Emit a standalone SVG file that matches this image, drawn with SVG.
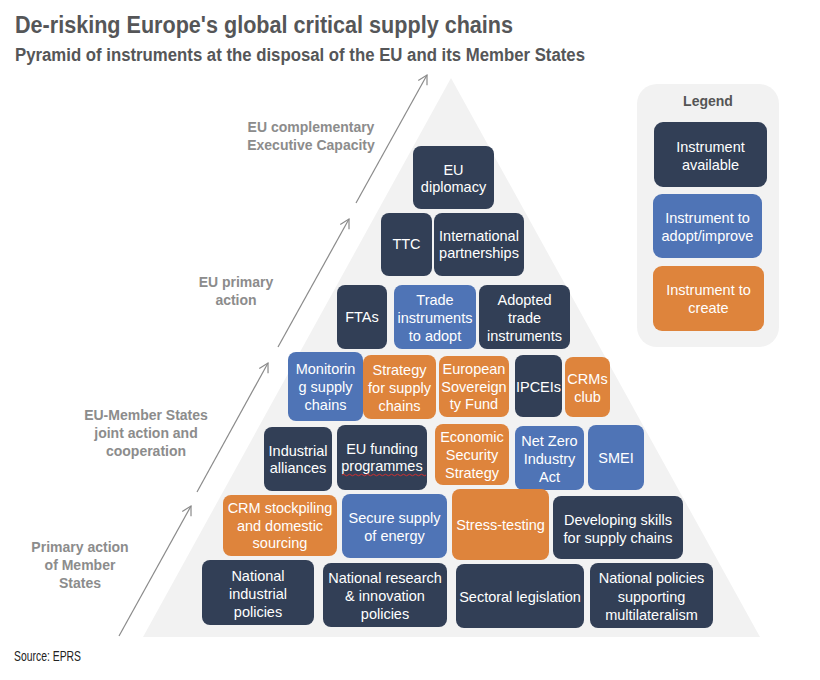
<svg xmlns="http://www.w3.org/2000/svg" width="820" height="680" viewBox="0 0 820 680">
<defs>
<marker id="arr" markerUnits="userSpaceOnUse" markerWidth="14" markerHeight="14" refX="0" refY="0" viewBox="-10 -7 12 14" orient="auto" overflow="visible">
<path d="M-9,-5 L0,0 L-9,5" fill="none" stroke="#8a8a8a" stroke-width="1.2"/>
</marker>
<style>
.t{font-family:"Liberation Sans",Arial,sans-serif;font-size:14.5px;fill:#ffffff;text-anchor:middle}
.lab{font-family:"Liberation Sans",Arial,sans-serif;font-size:14px;font-weight:bold;fill:#8c8c8c;text-anchor:middle}
.d{fill:#323f56}
.b{fill:#4f74b6}
.o{fill:#de843c}
.ar{stroke:#8a8a8a;stroke-width:1.2;fill:none}
</style>
</defs>
<rect width="820" height="680" fill="#ffffff"/>
<text x="15" y="33" font-family="Liberation Sans,Arial,sans-serif" font-size="23" font-weight="bold" fill="#555658" textLength="498" lengthAdjust="spacingAndGlyphs">De-risking Europe's global critical supply chains</text>
<text x="15" y="61" font-family="Liberation Sans,Arial,sans-serif" font-size="18" font-weight="bold" fill="#555658" textLength="570" lengthAdjust="spacingAndGlyphs">Pyramid of instruments at the disposal of the EU and its Member States</text>
<polygon points="451,78 143,637 760,637" fill="#f2f2f2"/>
<g id="connectors">
<line class="ar" x1="119" y1="636" x2="191" y2="506" marker-end="url(#arr)"/>
<line class="ar" x1="197" y1="492" x2="268" y2="363" marker-end="url(#arr)"/>
<line class="ar" x1="278" y1="347" x2="349" y2="219" marker-end="url(#arr)"/>
<line class="ar" x1="356" y1="203" x2="427" y2="75" marker-end="url(#arr)"/>
</g>
<g id="levels">
<text class="lab" x="311" y="132">EU complementary</text>
<text class="lab" x="311" y="150">Executive Capacity</text>
<text class="lab" x="236" y="287">EU primary</text>
<text class="lab" x="236" y="305">action</text>
<text class="lab" x="146" y="420">EU-Member States</text>
<text class="lab" x="146" y="438">joint action and</text>
<text class="lab" x="146" y="456">cooperation</text>
<text class="lab" x="80" y="552">Primary action</text>
<text class="lab" x="80" y="570">of Member</text>
<text class="lab" x="80" y="588">States</text>
</g>
<g id="n-eu-diplomacy"><rect class="d" x="413" y="146" width="81" height="63" rx="8"/><text class="t" x="453.5" y="175">EU</text><text class="t" x="453.5" y="192">diplomacy</text></g>
<g id="n-ttc"><rect class="d" x="381" y="213" width="51" height="63" rx="8"/><text class="t" x="406.5" y="249">TTC</text></g>
<g id="n-intl"><rect class="d" x="434" y="213" width="90" height="63" rx="8"/><text class="t" x="479" y="241">International</text><text class="t" x="479" y="258">partnerships</text></g>
<g id="n-ftas"><rect class="d" x="337" y="285" width="50" height="64" rx="8"/><text class="t" x="362" y="322">FTAs</text></g>
<g id="n-trade-adopt"><rect class="b" x="394" y="285" width="82" height="64" rx="8"/><text class="t" x="435" y="305">Trade</text><text class="t" x="435" y="323">instruments</text><text class="t" x="435" y="341">to adopt</text></g>
<g id="n-adopted-trade"><rect class="d" x="479" y="285" width="91" height="64" rx="8"/><text class="t" x="524.5" y="305">Adopted</text><text class="t" x="524.5" y="323">trade</text><text class="t" x="524.5" y="341">instruments</text></g>
<g id="n-monitoring"><rect class="b" x="288" y="352" width="75" height="69" rx="8"/><text class="t" x="325.5" y="374">Monitorin</text><text class="t" x="325.5" y="392">g supply</text><text class="t" x="325.5" y="410">chains</text></g>
<g id="n-strategy"><rect class="o" x="363" y="355" width="73" height="64" rx="8"/><text class="t" x="399.5" y="375">Strategy</text><text class="t" x="399.5" y="393">for supply</text><text class="t" x="399.5" y="411">chains</text></g>
<g id="n-esf"><rect class="o" x="439" y="356" width="70" height="61" rx="8"/><text class="t" x="474" y="374">European</text><text class="t" x="474" y="392">Sovereign</text><text class="t" x="474" y="409">ty Fund</text></g>
<g id="n-ipceis"><rect class="d" x="515" y="355" width="47" height="62" rx="8"/><text class="t" x="538.5" y="392">IPCEIs</text></g>
<g id="n-crms"><rect class="o" x="565" y="357" width="45" height="60" rx="8"/><text class="t" x="587.5" y="384">CRMs</text><text class="t" x="587.5" y="402">club</text></g>
<g id="n-alliances"><rect class="d" x="264" y="427" width="68" height="64" rx="8"/><text class="t" x="298" y="456">Industrial</text><text class="t" x="298" y="473">alliances</text></g>
<g id="n-funding"><rect class="d" x="337" y="425" width="90" height="65" rx="8"/><text class="t" x="382" y="454">EU funding</text><text class="t" x="382" y="471">programmes</text><path d="M342,475 q1.5,-1.5 3,0 t3,0 t3,0 t3,0 t3,0 t3,0 t3,0 t3,0 t3,0 t3,0 t3,0 t3,0 t3,0 t3,0 t3,0 t3,0 t3,0 t3,0 t3,0 t3,0 t3,0 t3,0 t3,0 t3,0 t3,0 t3,0 t3,0 t3,0" fill="none" stroke="#d03030" stroke-width="1"/></g>
<g id="n-ess"><rect class="o" x="435" y="424" width="74" height="61" rx="8"/><text class="t" x="472" y="442">Economic</text><text class="t" x="472" y="460">Security</text><text class="t" x="472" y="478">Strategy</text></g>
<g id="n-nzia"><rect class="b" x="515" y="426" width="69" height="64" rx="8"/><text class="t" x="549.5" y="446">Net Zero</text><text class="t" x="549.5" y="464">Industry</text><text class="t" x="549.5" y="482">Act</text></g>
<g id="n-smei"><rect class="b" x="588" y="425" width="56" height="65" rx="8"/><text class="t" x="616" y="463">SMEI</text></g>
<g id="n-crm-stock"><rect class="o" x="223" y="495" width="114" height="61" rx="8"/><text class="t" x="280" y="513">CRM stockpiling</text><text class="t" x="280" y="531">and domestic</text><text class="t" x="280" y="548">sourcing</text></g>
<g id="n-energy"><rect class="b" x="342" y="494" width="105" height="64" rx="8"/><text class="t" x="394.5" y="523">Secure supply</text><text class="t" x="394.5" y="541">of energy</text></g>
<g id="n-stress"><rect class="o" x="452" y="489" width="97" height="71" rx="8"/><text class="t" x="500.5" y="530">Stress-testing</text></g>
<g id="n-skills"><rect class="d" x="553" y="496" width="130" height="63" rx="8"/><text class="t" x="618" y="525">Developing skills</text><text class="t" x="618" y="543">for supply chains</text></g>
<g id="n-nat-ind"><rect class="d" x="202" y="560" width="112" height="65" rx="8"/><text class="t" x="258" y="581">National</text><text class="t" x="258" y="598.5">industrial</text><text class="t" x="258" y="616.5">policies</text></g>
<g id="n-nat-research"><rect class="d" x="323" y="563" width="124" height="64" rx="8"/><text class="t" x="385" y="583">National research</text><text class="t" x="385" y="601">&amp; innovation</text><text class="t" x="385" y="619">policies</text></g>
<g id="n-sectoral"><rect class="d" x="456" y="564" width="128" height="64" rx="8"/><text class="t" x="520" y="602">Sectoral legislation</text></g>
<g id="n-multilat"><rect class="d" x="590" y="563" width="123" height="65" rx="8"/><text class="t" x="651.5" y="583">National policies</text><text class="t" x="651.5" y="602">supporting</text><text class="t" x="651.5" y="620">multilateralism</text></g>
<g id="legend">
<rect x="637" y="84" width="142" height="263" rx="20" fill="#f2f2f2"/>
<text x="708" y="106" font-family="Liberation Sans,Arial,sans-serif" font-size="14" font-weight="bold" fill="#555555" text-anchor="middle">Legend</text>
<rect class="d" x="654" y="122" width="113" height="65" rx="9"/><text class="t" x="710.5" y="152">Instrument</text><text class="t" x="710.5" y="170">available</text>
<rect class="b" x="653" y="194" width="109" height="64" rx="9"/><text class="t" x="707.5" y="223">Instrument to</text><text class="t" x="707.5" y="241">adopt/improve</text>
<rect class="o" x="653" y="266" width="111" height="65" rx="9"/><text class="t" x="708.5" y="295">Instrument to</text><text class="t" x="708.5" y="313">create</text>
</g>
<text x="14" y="661" font-family="Liberation Sans,Arial,sans-serif" font-size="15" fill="#222222" textLength="67" lengthAdjust="spacingAndGlyphs">Source: EPRS</text>
</svg>
